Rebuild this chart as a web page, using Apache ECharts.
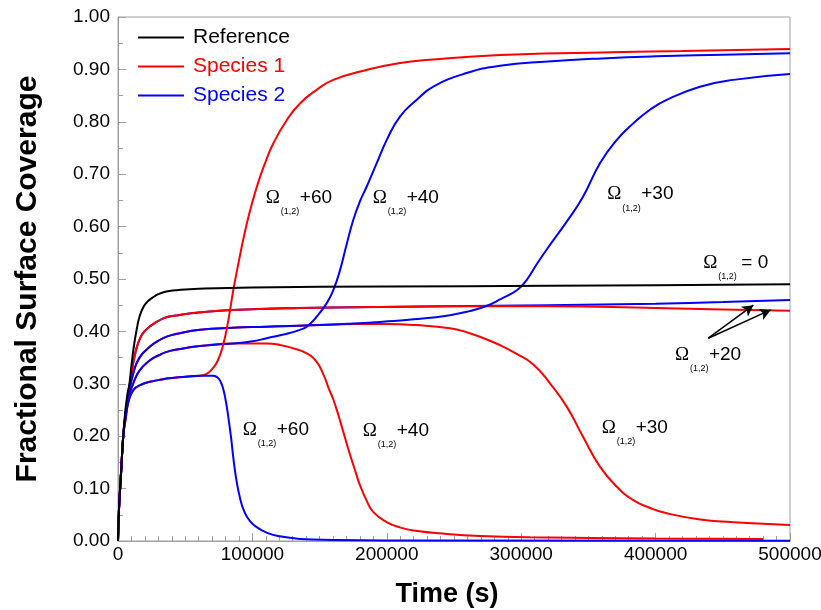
<!DOCTYPE html>
<html>
<head>
<meta charset="utf-8">
<script src="https://cdn.jsdelivr.net/npm/echarts@6/dist/echarts.min.js"></script>
<style>
  html, body { margin: 0; padding: 0; background: #fff; }
  #chart { width: 821px; height: 610px; }
</style>
</head>
<body>
<div id="chart"></div>
<script>
// x = time (s), y = fractional surface coverage
const refCurve = [[0,0],[800,0.065],[1500,0.097],[2500,0.14],[3900,0.2],[5500,0.25],[7000,0.28],[8500,0.3],[10000,0.335],[12000,0.375],[14000,0.405],[16000,0.428],[19000,0.447],[22000,0.457],[26000,0.465],[30000,0.471],[36000,0.476],[45000,0.479],[60000,0.4815],[100000,0.484],[200000,0.4855],[320000,0.487],[400000,0.488],[500000,0.49]];

const s1Omega20 = [[0,0],[800,0.065],[1500,0.097],[2500,0.14],[3900,0.2],[5500,0.24],[8000,0.285],[11000,0.335],[14000,0.37],[17000,0.39],[20000,0.401],[24000,0.41],[30000,0.42],[36000,0.427],[45000,0.431],[60000,0.436],[85000,0.441],[135000,0.4447],[210000,0.447],[280000,0.448],[320000,0.448],[400000,0.4445],[450000,0.442],[500000,0.4395]];
const s2Omega20 = [[0,0],[800,0.065],[1500,0.097],[2500,0.14],[3900,0.2],[5500,0.24],[8000,0.285],[11000,0.335],[14000,0.37],[17000,0.39],[20000,0.401],[24000,0.41],[30000,0.42],[36000,0.427],[45000,0.431],[60000,0.436],[85000,0.441],[135000,0.4447],[210000,0.447],[280000,0.449],[320000,0.45],[400000,0.453],[450000,0.456],[500000,0.46]];

const s1Omega30 = [[0,0],[800,0.065],[1500,0.097],[2500,0.14],[3900,0.2],[5500,0.24],[8000,0.28],[11400,0.32],[16000,0.35],[23800,0.371],[30000,0.382],[36200,0.39],[45000,0.396],[61000,0.403],[85000,0.407],[110000,0.409],[150000,0.412],[175000,0.414],[200000,0.414],[222000,0.412],[247000,0.406],[260000,0.398],[272000,0.387],[284000,0.374],[296000,0.358],[309000,0.337],[321400,0.301],[334000,0.256],[346000,0.199],[358600,0.142],[371000,0.104],[383400,0.078],[396000,0.063],[408200,0.053],[433000,0.041],[457800,0.036],[480000,0.033],[500000,0.0305]];
const s2Omega30 = [[0,0],[800,0.065],[1500,0.097],[2500,0.14],[3900,0.2],[5500,0.24],[8000,0.28],[11400,0.32],[16000,0.35],[23800,0.371],[30000,0.382],[36200,0.39],[45000,0.396],[61000,0.403],[85000,0.407],[110000,0.409],[150000,0.412],[175000,0.415],[197000,0.4186],[220000,0.423],[247000,0.431],[262000,0.439],[274000,0.4485],[285000,0.462],[297000,0.479],[304000,0.498],[312000,0.53],[321400,0.565],[334000,0.61],[346000,0.657],[358600,0.721],[371000,0.765],[383400,0.797],[395800,0.823],[408200,0.842],[433000,0.867],[457800,0.88],[500000,0.891]];

const s1Omega40 = [[0,0],[800,0.065],[1500,0.097],[2500,0.14],[3900,0.2],[5500,0.235],[8000,0.275],[11400,0.301],[16000,0.325],[23800,0.345],[30000,0.354],[36200,0.361],[45000,0.366],[61000,0.372],[85800,0.377],[110600,0.377],[120500,0.374],[130000,0.368],[140400,0.358],[147800,0.342],[152800,0.318],[157000,0.29],[160200,0.27],[164000,0.24],[168000,0.205],[172600,0.165],[177000,0.13],[180100,0.106],[185000,0.077],[190000,0.055],[199900,0.036],[209800,0.026],[219800,0.02],[244600,0.0134],[269300,0.0095],[306500,0.007],[400000,0.005],[480000,0.004]];
const s2Omega40 = [[0,0],[800,0.065],[1500,0.097],[2500,0.14],[3900,0.2],[5500,0.235],[8000,0.275],[11400,0.301],[16000,0.325],[23800,0.345],[30000,0.354],[36200,0.361],[45000,0.366],[61000,0.372],[85800,0.377],[100000,0.381],[110600,0.387],[125000,0.395],[135400,0.403],[140400,0.409],[147800,0.428],[155300,0.454],[160200,0.479],[165000,0.515],[170000,0.565],[175100,0.613],[180000,0.648],[185000,0.676],[192500,0.721],[199900,0.765],[209800,0.81],[222300,0.842],[234600,0.867],[259400,0.893],[284200,0.907],[320000,0.915],[360000,0.921],[400000,0.925],[450000,0.928],[500000,0.931]];

const s1Omega60 = [[0,0],[800,0.065],[1500,0.097],[2500,0.14],[3900,0.2],[5500,0.23],[8000,0.268],[11400,0.288],[16000,0.297],[23800,0.304],[30000,0.307],[36200,0.31],[45000,0.3125],[61000,0.3155],[66000,0.319],[70000,0.328],[74000,0.343],[78000,0.372],[82000,0.42],[85800,0.479],[90000,0.535],[94000,0.585],[98200,0.63],[102000,0.665],[105700,0.695],[110000,0.725],[115600,0.759],[125500,0.803],[135400,0.835],[147800,0.861],[160200,0.88],[185000,0.899],[209800,0.912],[234600,0.919],[284200,0.9275],[350000,0.932],[420000,0.935],[500000,0.939]];
const s2Omega60 = [[0,0],[800,0.065],[1500,0.097],[2500,0.14],[3900,0.2],[5500,0.23],[8000,0.268],[11400,0.288],[16000,0.297],[23800,0.304],[30000,0.307],[36200,0.31],[45000,0.3125],[61000,0.3155],[70900,0.3155],[74000,0.312],[76000,0.306],[78000,0.293],[80000,0.27],[82000,0.238],[84000,0.2],[86000,0.155],[88000,0.118],[90800,0.082],[94000,0.056],[98200,0.038],[104000,0.025],[110600,0.016],[120000,0.009],[135400,0.004],[160000,0.002],[200000,0.001],[500000,0.0005]];

// Omega labels: anchor in data coords, suffix text
const omegaLabels = [
  { at: [110000, 0.655], suffix: '+60' },
  { at: [189500, 0.655], suffix: '+40' },
  { at: [364000, 0.662], suffix: '+30' },
  { at: [435500, 0.531], suffix: '= 0' },
  { at: [414400, 0.355], suffix: '+20' },
  { at: [92800, 0.212], suffix: '+60' },
  { at: [182100, 0.21], suffix: '+40' },
  { at: [359900, 0.216], suffix: '+30' }
];
// arrows for the +20 pair: [tail, head]
const arrows = [
  [[439200, 0.387], [472700, 0.45]],
  [[439200, 0.387], [485600, 0.441]]
];

const RED = '#ff0000';
const BLUE = '#0000ff';
const AXIS = '#a0a0a0';

const chart = echarts.init(document.getElementById('chart'), null, { renderer: 'canvas' });

function curve(name, color, data, extra) {
  return Object.assign({
    name,
    type: 'line',
    data,
    showSymbol: false,
    smooth: 0.5,
    lineStyle: { color, width: 2 },
    itemStyle: { color },
    silent: true
  }, extra || {});
}

chart.setOption({
  animation: false,
  backgroundColor: '#fff',
  grid: {
    left: 118, right: 31, top: 17, bottom: 69,
    containLabel: false, outerBoundsMode: 'none',
    show: true, borderColor: AXIS, borderWidth: 1
  },
  legend: {
    orient: 'vertical',
    left: 133,
    top: 22,
    icon: 'rect',
    itemWidth: 46,
    itemHeight: 2,
    itemGap: 8,
    selectedMode: false,
    textStyle: { fontSize: 21, fontFamily: 'Liberation Sans, Arial', padding: [0, 0, 0, 4] },
    data: [
      { name: 'Reference', textStyle: { color: '#000' } },
      { name: 'Species 1', textStyle: { color: RED } },
      { name: 'Species 2', textStyle: { color: BLUE } }
    ]
  },
  xAxis: {
    type: 'value',
    min: 0,
    max: 500000,
    interval: 100000,
    name: 'Time (s)',
    nameLocation: 'middle',
    nameGap: 40,
    nameTextStyle: { fontSize: 27, fontWeight: 'bold', fontFamily: 'Liberation Sans, Arial', color: '#000', padding: [0, 14, 0, 0] },
    axisLine: { lineStyle: { color: AXIS } },
    axisTick: { inside: true, length: 8, lineStyle: { color: AXIS } },
    minorTick: { show: true, splitNumber: 10, length: 5, lineStyle: { color: AXIS } },
    axisLabel: { fontSize: 19, fontFamily: 'Liberation Sans, Arial', color: '#000', margin: 4, formatter: v => String(v) },
    splitLine: { show: false }
  },
  yAxis: {
    type: 'value',
    min: 0,
    max: 1,
    interval: 0.1,
    name: 'Fractional Surface Coverage',
    nameLocation: 'middle',
    nameGap: 75,
    nameTextStyle: { fontSize: 30, fontWeight: 'bold', fontFamily: 'Liberation Sans, Arial', color: '#000' },
    axisLine: { show: true, lineStyle: { color: AXIS } },
    axisTick: { show: true, inside: true, length: 8, lineStyle: { color: AXIS } },
    minorTick: { show: true, splitNumber: 2, length: 5, lineStyle: { color: AXIS } },
    axisLabel: { fontSize: 19, fontFamily: 'Liberation Sans, Arial', color: '#000', margin: 8, formatter: v => v.toFixed(2) },
    splitLine: { show: false }
  },
  series: [
    curve('Species 2', BLUE, s2Omega20),
    curve('Species 1', RED, s1Omega20, {
      markLine: {
        silent: true,
        symbol: ['none', 'arrow'],
        symbolSize: [9, 11],
        label: { show: false },
        lineStyle: { color: '#000', width: 1.5, type: 'solid' },
        data: arrows.map(a => [{ coord: a[0] }, { coord: a[1] }])
      }
    }),
    curve('Species 1', RED, s1Omega30),
    curve('Species 2', BLUE, s2Omega30),
    curve('Species 1', RED, s1Omega40),
    curve('Species 2', BLUE, s2Omega40),
    curve('Species 1', RED, s1Omega60),
    curve('Species 2', BLUE, s2Omega60),
    curve('Reference', '#000', refCurve)
  ]
});

const graphics = [];
omegaLabels.forEach(l => {
  const p = chart.convertToPixel({ gridIndex: 0 }, l.at);
  graphics.push({
    type: 'text', x: p[0], y: p[1],
    style: { text: 'Ω', fontSize: 19, fontFamily: 'Liberation Serif, serif', fill: '#000', verticalAlign: 'middle', align: 'left' }
  });
  graphics.push({
    type: 'text', x: p[0] + 15, y: p[1] + 14,
    style: { text: '(1,2)', fontSize: 9, fontFamily: 'Liberation Sans, Arial', fill: '#000', verticalAlign: 'middle', align: 'left' }
  });
  graphics.push({
    type: 'text', x: p[0] + (l.suffix === '= 0' ? 38 : 34), y: p[1],
    style: { text: l.suffix, fontSize: 19, fontFamily: 'Liberation Sans, Arial', fill: '#000', verticalAlign: 'middle', align: 'left' }
  });
});
chart.setOption({ graphic: graphics });
</script>
</body>
</html>
